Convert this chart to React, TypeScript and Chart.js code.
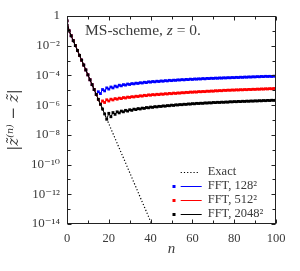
import React, { useEffect, useRef } from "react";
import { Chart, registerables } from "chart.js";

Chart.register(...registerables);

// iteration index n
const nValues = [
  0, 1, 2, 3, 4, 5, 6, 7, 8, 9, 10, 11, 12, 13, 14, 15, 16, 17, 18, 19, 20,
  21, 22, 23, 24, 25, 26, 27, 28, 29, 30, 31, 32, 33, 34, 35, 36, 37, 38, 39, 40,
  41, 42, 43, 44, 45, 46, 47, 48, 49, 50, 51, 52, 53, 54, 55, 56, 57, 58, 59, 60,
  61, 62, 63, 64, 65, 66, 67, 68, 69, 70, 71, 72, 73, 74, 75, 76, 77, 78, 79, 80,
  81, 82, 83, 84, 85, 86, 87, 88, 89, 90, 91, 92, 93, 94, 95, 96, 97, 98, 99, 100,
];

// log10 |z^(n) - z|
const exactLog = [
  -0.33, -1.0, -1.33, -1.66, -1.99, -2.32, -2.65, -2.97, -3.3, -3.63, -3.96,
  -4.29, -4.62, -4.95, -5.28, -5.61, -5.94, -6.26, -6.59, -6.92, -7.25,
  -7.58, -7.91, -8.24, -8.57, -8.9, -9.23, -9.55, -9.88, -10.21, -10.54,
  -10.87, -11.2, -11.53, -11.86, -12.19, -12.52, -12.84, -13.17, -13.5, -13.83,
  -14.16,
];

const fft128Log = [
  -0.33, -1.0, -1.33, -1.66, -1.99, -2.32, -2.65, -2.97, -3.3, -3.63, -3.96,
  -4.29, -4.62, -4.95, -5.28, -5.1, -5.22, -4.95, -5.04, -4.84, -4.92,
  -4.78, -4.84, -4.72, -4.77, -4.66, -4.7, -4.62, -4.65, -4.58, -4.61,
  -4.55, -4.57, -4.52, -4.54, -4.49, -4.51, -4.46, -4.48, -4.43, -4.45,
  -4.41, -4.43, -4.39, -4.41, -4.37, -4.39, -4.35, -4.37, -4.33, -4.35,
  -4.32, -4.33, -4.3, -4.31, -4.28, -4.3, -4.27, -4.28, -4.25, -4.27,
  -4.24, -4.25, -4.23, -4.24, -4.21, -4.23, -4.2, -4.21, -4.19, -4.2,
  -4.18, -4.19, -4.17, -4.18, -4.16, -4.17, -4.15, -4.16, -4.14, -4.15,
  -4.13, -4.14, -4.12, -4.13, -4.11, -4.12, -4.1, -4.11, -4.09, -4.1,
  -4.08, -4.09, -4.07, -4.08, -4.06, -4.07, -4.06, -4.07, -4.05, -4.06,
];

const fft512Log = [
  -0.33, -1.0, -1.33, -1.66, -1.99, -2.32, -2.65, -2.97, -3.3, -3.63, -3.96,
  -4.29, -4.62, -4.95, -5.28, -5.61, -5.94, -5.72, -5.82, -5.64, -5.72,
  -5.6, -5.65, -5.56, -5.6, -5.53, -5.56, -5.49, -5.52, -5.46, -5.48,
  -5.43, -5.45, -5.4, -5.42, -5.37, -5.39, -5.34, -5.36, -5.31, -5.33,
  -5.29, -5.31, -5.27, -5.29, -5.25, -5.27, -5.23, -5.25, -5.21, -5.23,
  -5.19, -5.21, -5.18, -5.19, -5.16, -5.17, -5.14, -5.15, -5.12, -5.13,
  -5.11, -5.12, -5.09, -5.1, -5.08, -5.09, -5.06, -5.07, -5.05, -5.06,
  -5.03, -5.04, -5.02, -5.03, -5.0, -5.01, -4.99, -5.0, -4.98, -4.99,
  -4.97, -4.98, -4.96, -4.97, -4.95, -4.96, -4.94, -4.95, -4.93, -4.94,
  -4.92, -4.93, -4.91, -4.92, -4.9, -4.91, -4.89, -4.9, -4.88, -4.89,
];

const fft2048Log = [
  -0.33, -1.0, -1.33, -1.66, -1.99, -2.32, -2.65, -2.97, -3.3, -3.63, -3.96,
  -4.29, -4.62, -4.95, -5.28, -5.61, -5.94, -6.26, -6.59, -6.95, -6.55,
  -6.78, -6.5, -6.62, -6.45, -6.52, -6.4, -6.45, -6.35, -6.4, -6.31,
  -6.35, -6.27, -6.3, -6.23, -6.26, -6.2, -6.22, -6.16, -6.18, -6.13,
  -6.15, -6.1, -6.12, -6.08, -6.09, -6.05, -6.07, -6.03, -6.04, -6.0,
  -6.02, -5.98, -5.99, -5.96, -5.97, -5.94, -5.95, -5.92, -5.93, -5.9,
  -5.91, -5.88, -5.89, -5.87, -5.88, -5.85, -5.86, -5.84, -5.85, -5.82,
  -5.83, -5.81, -5.82, -5.8, -5.81, -5.79, -5.8, -5.77, -5.78, -5.76,
  -5.77, -5.75, -5.76, -5.74, -5.75, -5.73, -5.74, -5.72, -5.73, -5.71,
  -5.72, -5.7, -5.71, -5.69, -5.7, -5.68, -5.69, -5.67, -5.68, -5.66,
];

const seriesLabels = ["Exact", "FFT, 128²", "FFT, 512²", "FFT, 2048²"];
const seriesColors = ["#000000", "#0000ff", "#ff0000", "#000000"];

const yTickValues = [-14, -12, -10, -8, -6, -4, -2, 0];
const yTickLabels = ["10⁻¹⁴", "10⁻¹²", "10⁻¹⁰", "10⁻⁸", "10⁻⁶", "10⁻⁴", "10⁻²", "1"];
const xTickValues = [0, 20, 40, 60, 80, 100];
const xTickLabels = ["0", "20", "40", "60", "80", "100"];

const plotTitle = ["MS-scheme, ", "z", " = 0."];
const xTitle = "n";
const yTitle = "|z̃⁽ⁿ⁾ − z̃|";

const SERIF = '"Liberation Serif", "DejaVu Serif", serif';
const TEXT = "#3a3a3a";

const toPoints = (arr: number[]) => arr.map((v, i) => ({ x: nValues[i], y: v }));

const decorPlugin = {
  id: "decor",
  afterDraw(chart: any) {
    const { ctx, chartArea: a, scales } = chart;
    const xs = scales.x;
    const ys = scales.y;
    ctx.save();
    // frame
    ctx.strokeStyle = "#222";
    ctx.lineWidth = 1;
    const L = Math.round(a.left) + 0.5;
    const R = Math.round(a.right) - 0.5;
    const T = Math.round(a.top) + 0.5;
    const B = Math.round(a.bottom) - 0.5;
    ctx.strokeRect(L, T, R - L, B - T);
    // inward ticks
    ctx.beginPath();
    xs.ticks.forEach((t: any) => {
      const major = xTickValues.indexOf(t.value) >= 0;
      const len = major ? 4 : 3;
      const px = Math.round(xs.getPixelForValue(t.value)) + 0.5;
      ctx.moveTo(px, B);
      ctx.lineTo(px, B - len);
      ctx.moveTo(px, T);
      ctx.lineTo(px, T + len);
    });
    ys.ticks.forEach((t: any) => {
      const major = yTickValues.indexOf(t.value) >= 0;
      const len = major ? 4 : 3;
      const py = Math.round(ys.getPixelForValue(t.value)) + 0.5;
      ctx.moveTo(L, py);
      ctx.lineTo(L + len, py);
      ctx.moveTo(R, py);
      ctx.lineTo(R - len, py);
    });
    ctx.stroke();

    // plot title inside the frame
    ctx.fillStyle = TEXT;
    ctx.textBaseline = "alphabetic";
    ctx.textAlign = "left";
    let tx = a.left + 18;
    const ty = a.top + 19;
    ctx.font = `15.5px ${SERIF}`;
    ctx.fillText(plotTitle[0], tx, ty);
    tx += ctx.measureText(plotTitle[0]).width;
    ctx.font = `italic 15.5px ${SERIF}`;
    ctx.fillText(plotTitle[1], tx, ty);
    tx += ctx.measureText(plotTitle[1]).width;
    ctx.font = `15.5px ${SERIF}`;
    ctx.fillText(plotTitle[2], tx, ty);

    // legend
    const ds = chart.data.datasets;
    ctx.font = `12.5px ${SERIF}`;
    ctx.textBaseline = "middle";
    ds.forEach((d: any, i: number) => {
      const y = a.bottom - 52.3 + i * 14;
      const x0 = a.right - 95.3;
      const x1 = a.right - 74.3;
      ctx.strokeStyle = d.borderColor;
      ctx.lineWidth = 1;
      ctx.setLineDash(d.borderDash || []);
      ctx.beginPath();
      ctx.moveTo(x0, Math.round(y) + 0.5);
      ctx.lineTo(d.borderDash ? x1 - 2 : x1, Math.round(y) + 0.5);
      ctx.stroke();
      ctx.setLineDash([]);
      if (d.pointRadius > 0) {
        ctx.fillStyle = d.pointBackgroundColor;
        ctx.fillRect(a.right - 103.5, Math.round(y) - 1, 3, 3);
      }
      ctx.fillStyle = TEXT;
      ctx.fillText(d.label, a.right - 68.3, y);
    });
    ctx.restore();
  },
};

export default function App() {
  const ref = useRef<HTMLCanvasElement | null>(null);
  useEffect(() => {
    if (!ref.current) return;
    const mk = (i: number, arr: number[], order: number, dashed: boolean) => ({
      label: seriesLabels[i],
      data: toPoints(arr),
      borderColor: seriesColors[i],
      backgroundColor: seriesColors[i],
      borderWidth: dashed ? 1.2 : 1,
      borderDash: dashed ? [1.2, 2] : undefined,
      pointRadius: dashed ? 0 : 2,
      pointStyle: "rect",
      pointBorderWidth: 0,
      pointBackgroundColor: seriesColors[i],
      tension: 0,
      order,
    });
    const chart = new Chart(ref.current, {
      type: "line",
      data: {
        datasets: [
          mk(0, exactLog, 0, true),
          mk(1, fft128Log, 3, false),
          mk(2, fft512Log, 2, false),
          mk(3, fft2048Log, 1, false),
        ] as any,
      },
      options: {
        responsive: false,
        animation: false,
        layout: { padding: { top: 16, right: 24, left: 0, bottom: 0 } },
        plugins: { legend: { display: false }, tooltip: { enabled: false } },
        scales: {
          x: {
            type: "linear",
            min: 0,
            max: 100,
            afterFit: (s: any) => {
              s.height = 47;
            },
            grid: { display: false, drawTicks: false },
            border: { display: false },
            ticks: {
              stepSize: 10,
              autoSkip: false,
              maxRotation: 0,
              padding: 7,
              color: TEXT,
              font: { family: SERIF, size: 12.5 },
              callback: (v: any) => {
                const k = xTickValues.indexOf(Number(v));
                return k >= 0 ? xTickLabels[k] : "";
              },
            },
            title: {
              display: true,
              text: xTitle,
              color: TEXT,
              font: { family: SERIF, size: 15, style: "italic" },
              padding: { top: 0, bottom: 13 },
            },
          },
          y: {
            type: "linear",
            min: -14,
            max: 0,
            afterFit: (s: any) => {
              s.width = 67;
            },
            grid: { display: false, drawTicks: false },
            border: { display: false },
            ticks: {
              stepSize: 1,
              autoSkip: false,
              padding: 7,
              color: TEXT,
              font: { family: SERIF, size: 13 },
              callback: (v: any) => {
                const k = yTickValues.indexOf(Number(v));
                return k >= 0 ? yTickLabels[k] : "";
              },
            },
            title: {
              display: true,
              text: yTitle,
              color: TEXT,
              font: { family: '"DejaVu Serif", serif', size: 15, style: "italic" },
              padding: { top: 5, bottom: 0 },
            },
          },
        },
      },
      plugins: [decorPlugin],
    });
    return () => chart.destroy();
  }, []);
  return (
    <div style={{ position: "absolute", left: 0, top: 0, width: 300, height: 271 }}>
      <canvas ref={ref} width={300} height={271} style={{ display: "block" }} />
    </div>
  );
}
